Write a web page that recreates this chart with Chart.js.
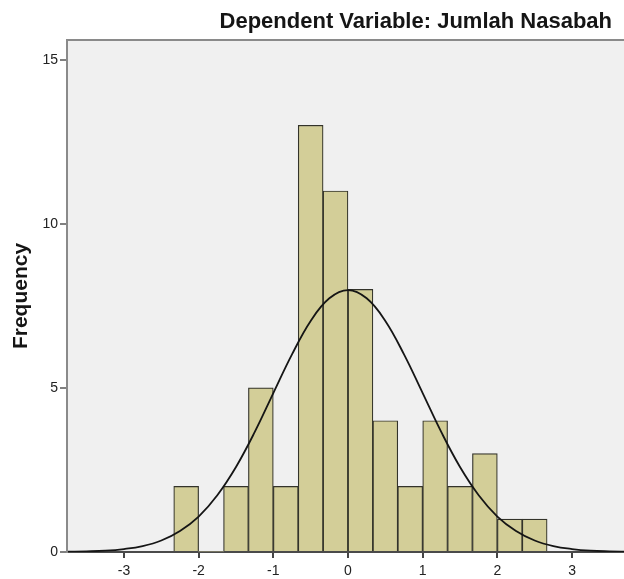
<!DOCTYPE html>
<html>
<head>
<meta charset="utf-8">
<script src="https://cdn.jsdelivr.net/npm/chart.js@4"></script>
<style>
  html, body { margin: 0; padding: 0; background: #ffffff; }
  #wrap { width: 624px; height: 579px; }
</style>
</head>
<body>
<div id="wrap"><canvas id="hist"></canvas></div>
<script>
// histogram bins (midpoints of width 1/3) and their counts
const binMid = [-2.167, -1.833, -1.5, -1.167, -0.833, -0.5, -0.167, 0.167, 0.5, 0.833, 1.167, 1.5, 1.833, 2.167, 2.5];
const counts = [2, 0, 2, 5, 2, 13, 11, 8, 4, 2, 4, 2, 3, 1, 1];

// normal curve
const curveX = [-3.75, -3.5, -3.25, -3, -2.75, -2.5, -2.25, -2, -1.75, -1.5, -1.25, -1, -0.75, -0.5, -0.25, 0,
                0.25, 0.5, 0.75, 1, 1.25, 1.5, 1.75, 2, 2.25, 2.5, 2.75, 3, 3.25, 3.5, 3.75];
const curveY = [0.01, 0.02, 0.04, 0.09, 0.18, 0.35, 0.64, 1.08, 1.73, 2.59, 3.65, 4.84, 6.02, 7.04, 7.73, 7.98,
                7.73, 7.04, 6.02, 4.84, 3.65, 2.59, 1.73, 1.08, 0.64, 0.35, 0.18, 0.09, 0.04, 0.02, 0.01];

const xTicks = [-3, -2, -1, 0, 1, 2, 3];
const yTicks = [0, 5, 10, 15];
const titleText = 'Dependent Variable: Jumlah Nasabah';
const yTitle = 'Frequency';

const FONT = "'Liberation Sans', Arial, sans-serif";

// plot background + top frame line
const frame = {
  id: 'frame',
  beforeDraw(chart) {
    const { ctx, chartArea: a } = chart;
    ctx.save();
    ctx.fillStyle = '#f0f0f0';
    ctx.fillRect(a.left, a.top, a.right - a.left, a.bottom - a.top);
    ctx.strokeStyle = '#8a8a8a';
    ctx.lineWidth = 2;
    ctx.beginPath();
    ctx.moveTo(a.left, a.top);
    ctx.lineTo(a.right, a.top);
    ctx.stroke();
    ctx.restore();
  }
};

// title in the top right corner
const topTitle = {
  id: 'topTitle',
  afterDraw(chart) {
    const { ctx, chartArea: a } = chart;
    ctx.save();
    ctx.font = 'bold 22px ' + FONT;
    ctx.fillStyle = '#151515';
    ctx.textAlign = 'right';
    ctx.textBaseline = 'alphabetic';
    ctx.fillText(titleText, a.right - 12, a.top - 12);
    ctx.restore();
  }
};

new Chart(document.getElementById('hist'), {
  data: {
    datasets: [
      {
        type: 'line',
        order: 0,
        data: curveX.map((x, i) => ({ x: x, y: curveY[i] })),
        borderColor: '#151515',
        borderWidth: 1.8,
        pointRadius: 0,
        tension: 0.4,
        fill: false
      },
      {
        type: 'bar',
        order: 1,
        data: binMid.map((x, i) => ({ x: x, y: counts[i] })),
        backgroundColor: '#d3ce98',
        borderColor: '#33332a',
        borderWidth: ctx => (ctx.parsed && ctx.parsed.y === 0 ? 0 : 1.2),
        borderSkipped: 'start',
        barPercentage: 1,
        categoryPercentage: 1
      }
    ]
  },
  options: {
    responsive: true,
    maintainAspectRatio: false,
    animation: false,
    layout: { padding: { top: 40, right: 0, left: 0, bottom: 0 } },
    plugins: {
      legend: { display: false },
      tooltip: { enabled: false }
    },
    scales: {
      x: {
        type: 'linear',
        min: -3.763,
        max: 3.696,
        offset: false,
        afterFit: s => { s.height = 27; },
        afterBuildTicks: s => { s.ticks = xTicks.map(v => ({ value: v })); },
        ticks: { color: '#222', font: { family: FONT, size: 14 }, padding: 5, includeBounds: false },
        grid: { drawOnChartArea: false, tickLength: 6, color: '#444', lineWidth: 2, offset: false },
        border: { color: '#4a4a4a', width: 2 }
      },
      y: {
        min: 0,
        max: 15.6,
        afterFit: s => { s.width = 67; },
        afterBuildTicks: s => { s.ticks = yTicks.map(v => ({ value: v })); },
        ticks: { color: '#222', font: { family: FONT, size: 14 }, padding: 2, includeBounds: false },
        grid: { drawOnChartArea: false, tickLength: 7, color: '#808080', lineWidth: 2 },
        border: { color: '#8a8a8a', width: 2 },
        title: {
          display: true,
          text: yTitle,
          color: '#151515',
          font: { family: FONT, size: 21, weight: 'bold' },
          padding: { top: 9, bottom: 0 }
        }
      }
    }
  },
  plugins: [frame, topTitle]
});
</script>
</body>
</html>
